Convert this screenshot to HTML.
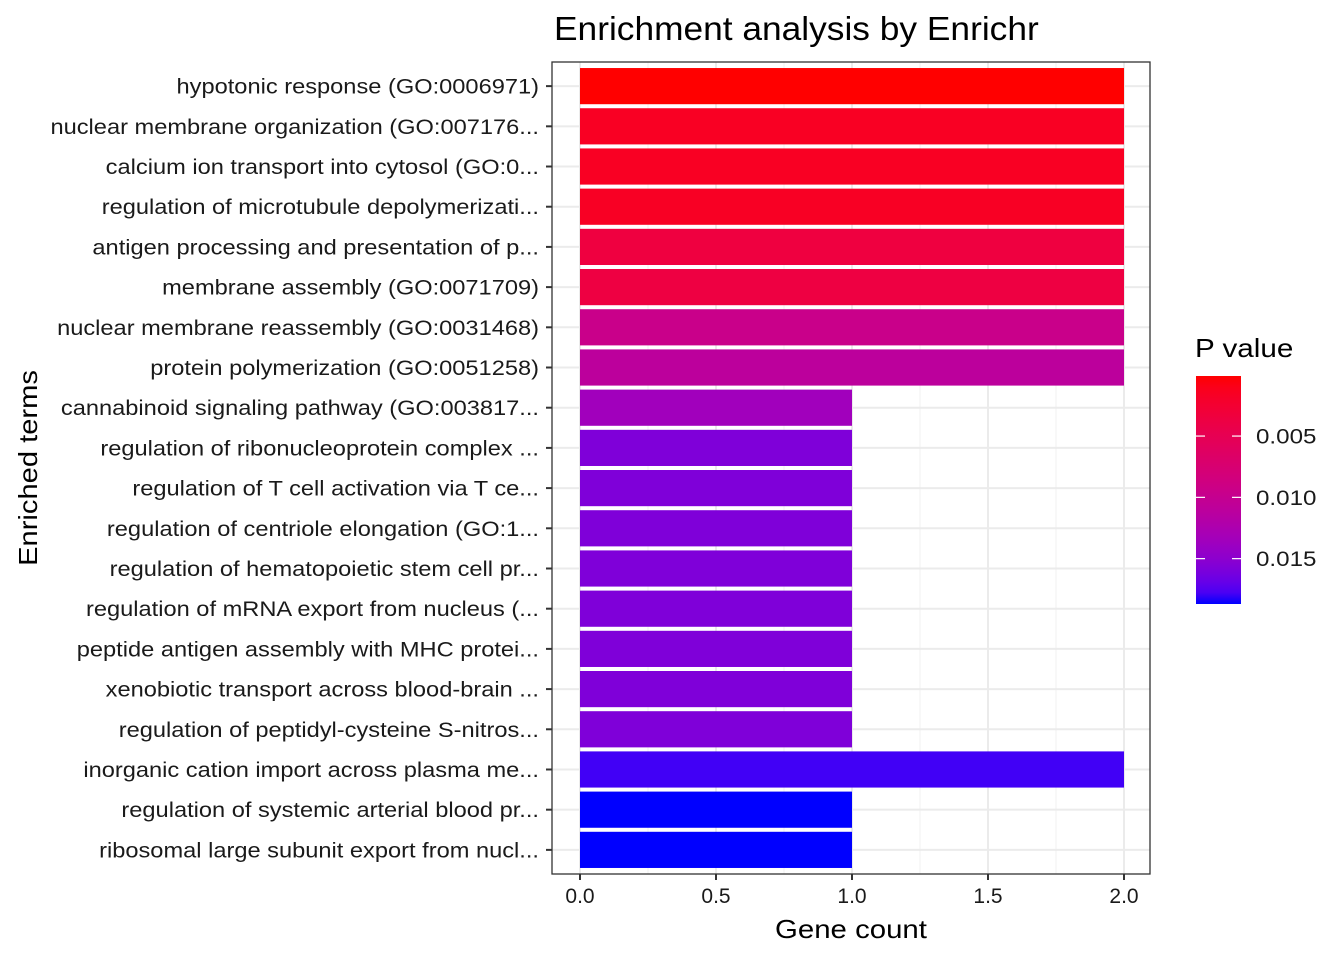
<!DOCTYPE html>
<html><head><meta charset="utf-8"><style>
body{margin:0;background:#fff}
svg{display:block;font-family:"Liberation Sans",sans-serif}
</style></head><body>
<svg id="chart" width="1344" height="960"></svg>
<script>
const terms=["hypotonic response (GO:0006971)","nuclear membrane organization (GO:007176...","calcium ion transport into cytosol (GO:0...","regulation of microtubule depolymerizati...","antigen processing and presentation of p...","membrane assembly (GO:0071709)","nuclear membrane reassembly (GO:0031468)","protein polymerization (GO:0051258)","cannabinoid signaling pathway (GO:003817...","regulation of ribonucleoprotein complex ...","regulation of T cell activation via T ce...","regulation of centriole elongation (GO:1...","regulation of hematopoietic stem cell pr...","regulation of mRNA export from nucleus (...","peptide antigen assembly with MHC protei...","xenobiotic transport across blood-brain ...","regulation of peptidyl-cysteine S-nitros...","inorganic cation import across plasma me...","regulation of systemic arterial blood pr...","ribosomal large subunit export from nucl..."];
const counts=[2,2,2,2,2,2,2,2,1,1,1,1,1,1,1,1,1,2,1,1];
const pvals=[0.0001,0.0015,0.0015,0.0016,0.0035,0.0037,0.0095,0.011,0.0135,0.0158,0.0158,0.0158,0.0158,0.0158,0.0158,0.0158,0.0158,0.018,0.0187,0.0187];
const xTicks=[0,0.5,1,1.5,2];
const legendTicks=[0.005,0.010,0.015];
const legendLabels=["0.005","0.010","0.015"];

const NS="http://www.w3.org/2000/svg",svg=document.getElementById("chart");
function mk(t,a,p,txt){const e=document.createElementNS(NS,t);for(const k in a)e.setAttribute(k,a[k]);if(txt!=null)e.textContent=txt;(p||svg).appendChild(e);return e;}
function stretch(e,f){const L=e.getComputedTextLength();e.setAttribute("textLength",L*f);e.setAttribute("lengthAdjust","spacingAndGlyphs");}
function s2l(c){c/=255;return c<=0.04045?c/12.92:Math.pow((c+0.055)/1.055,2.4);}
function l2s(c){c=c<=0.0031308?12.92*c:1.055*Math.pow(c,1/2.4)-0.055;return Math.max(0,Math.min(255,Math.round(c*255)));}
const Xn=0.95047,Yn=1,Zn=1.08883;
function f(t){return t>0.008856?Math.cbrt(t):7.787*t+16/116;}
function fi(t){return t*t*t>0.008856?t*t*t:(t-16/116)/7.787;}
function toLab(r,g,b){r=s2l(r);g=s2l(g);b=s2l(b);const X=0.4124*r+0.3576*g+0.1805*b,Y=0.2126*r+0.7152*g+0.0722*b,Z=0.0193*r+0.1192*g+0.9505*b;const fx=f(X/Xn),fy=f(Y/Yn),fz=f(Z/Zn);return[116*fy-16,500*(fx-fy),200*(fy-fz)];}
function fromLab(L,a,b){const fy=(L+16)/116,fx=fy+a/500,fz=fy-b/200;const X=Xn*fi(fx),Y=Yn*fi(fy),Z=Zn*fi(fz);const r=3.2406*X-1.5372*Y-0.4986*Z,g=-0.9689*X+1.8758*Y+0.0415*Z,bb=0.0557*X-0.2040*Y+1.0570*Z;return`rgb(${l2s(r)},${l2s(g)},${l2s(bb)})`;}
const RED=toLab(255,0,0),BLUE=toLab(0,0,255);
const pmin=Math.min(...pvals),pmax=Math.max(...pvals);
function col(p){const t=(p-pmin)/(pmax-pmin);return fromLab(RED[0]+(BLUE[0]-RED[0])*t,RED[1]+(BLUE[1]-RED[1])*t,RED[2]+(BLUE[2]-RED[2])*t);}

const PL=552,PR=1150,PT=62,PB=874;
const xs=v=>580+v*272;
const step=(PB-PT)/(terms.length-1+1.2);
const ys=i=>PT+step*(0.6+i);

let t=mk("text",{x:554,y:40,"font-size":"33","fill":"#000"},null,"Enrichment analysis by Enrichr");
stretch(t,1.07);
for(let i=0;i<xTicks.length-1;i++){const v=(xTicks[i]+xTicks[i+1])/2;const l=mk("line",{x1:xs(v),x2:xs(v),y1:PT,y2:PB,stroke:"#f0f0f0","stroke-width":1});}
xTicks.forEach(v=>{const l=mk("line",{x1:xs(v),x2:xs(v),y1:PT,y2:PB,stroke:"#ebebeb","stroke-width":2});});
terms.forEach((s,i)=>{const l=mk("line",{x1:PL,x2:PR,y1:ys(i),y2:ys(i),stroke:"#ebebeb","stroke-width":2});});
terms.forEach((s,i)=>{const h=step*0.9;const r=mk("rect",{x:xs(0),y:ys(i)-h/2,width:xs(counts[i])-xs(0),height:h,fill:col(pvals[i])});
const tk=mk("line",{x1:PL-6,x2:PL,y1:ys(i),y2:ys(i),stroke:"#333","stroke-width":2});
const lb=mk("text",{x:PL-13,y:ys(i)+7.5,"font-size":"21","text-anchor":"end",fill:"#1a1a1a"},null,s);stretch(lb,1.125);});
const bd=mk("rect",{x:PL,y:PT,width:PR-PL,height:PB-PT,fill:"none",stroke:"#333","stroke-width":1.3});
xTicks.forEach(v=>{const tk=mk("line",{x1:xs(v),x2:xs(v),y1:PB,y2:PB+6,stroke:"#333","stroke-width":2});
const lb=mk("text",{x:xs(v),y:PB+29,"font-size":"21","text-anchor":"middle",fill:"#1a1a1a"},null,v.toFixed(1));});
t=mk("text",{x:(PL+PR)/2,y:938,"font-size":"26","text-anchor":"middle"},null,"Gene count");stretch(t,1.13);
t=mk("text",{x:0,y:0,"font-size":"26","text-anchor":"middle",transform:`translate(37,${(PT+PB)/2}) rotate(-90)`},null,"Enriched terms");stretch(t,1.12);
t=mk("text",{x:1195,y:357,"font-size":"26"},null,"P value");stretch(t,1.14);
const LT=376,LB=604,LX=1196,LW=45;
const defs=mk("defs",{});const g=mk("linearGradient",{id:"lg",x1:0,y1:0,x2:0,y2:1},defs);
for(let k=0;k<=20;k++){mk("stop",{offset:k/20,"stop-color":col(pmin+(pmax-pmin)*k/20)},g);}
const cb=mk("rect",{x:LX,y:LT,width:LW,height:LB-LT,fill:"url(#lg)"});
const ly=p=>LT+(p-pmin)/(pmax-pmin)*(LB-LT);
legendTicks.forEach((p,i)=>{mk("line",{x1:LX,x2:LX+9,y1:ly(p),y2:ly(p),stroke:"#fff","stroke-width":1.2});mk("line",{x1:LX+LW-9,x2:LX+LW,y1:ly(p),y2:ly(p),stroke:"#fff","stroke-width":1.2});
const lb=mk("text",{x:1256,y:ly(p)+7.5,"font-size":"21",fill:"#1a1a1a"},null,legendLabels[i]);stretch(lb,1.15);});
</script>
</body></html>
